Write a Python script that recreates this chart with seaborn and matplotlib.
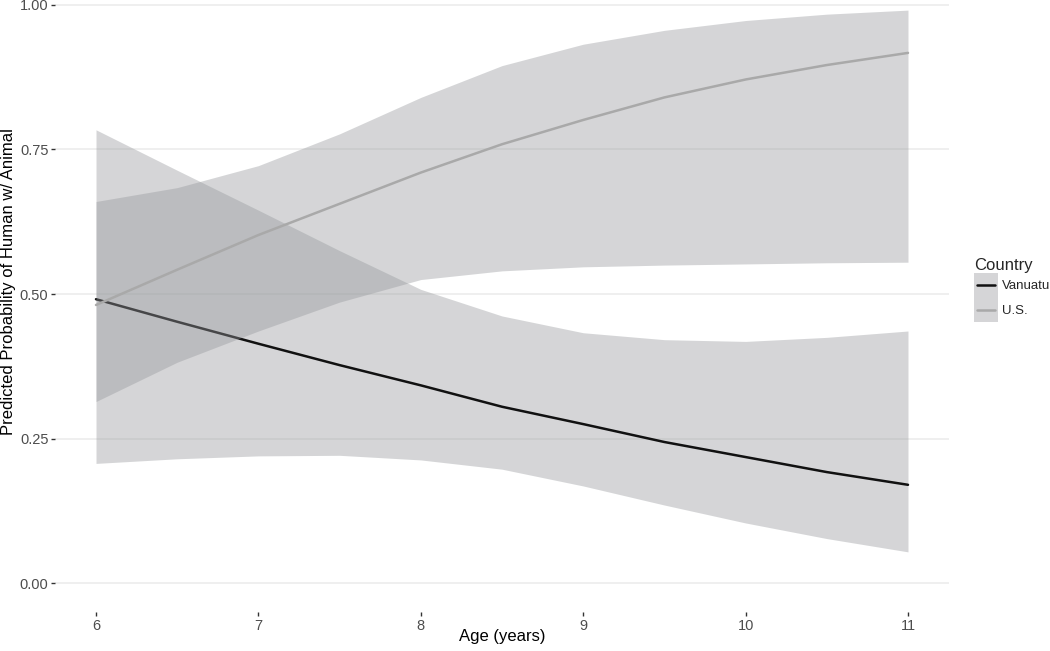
import matplotlib
matplotlib.use("Agg")
import matplotlib.pyplot as plt
import seaborn as sns
import pandas as pd
from matplotlib.patches import Rectangle
from matplotlib.lines import Line2D

# Predicted values (age in years)
age = [6, 6.5, 7, 7.5, 8, 8.5, 9, 9.5, 10, 10.5, 11]

vanuatu_fit = [0.491, 0.452, 0.414, 0.377, 0.342, 0.305, 0.275, 0.244, 0.218, 0.192, 0.170]
vanuatu_upper = [0.784, 0.714, 0.645, 0.575, 0.508, 0.462, 0.433, 0.421, 0.418, 0.425, 0.436]
vanuatu_lower = [0.207, 0.215, 0.220, 0.221, 0.213, 0.197, 0.168, 0.135, 0.104, 0.077, 0.054]

us_fit = [0.481, 0.542, 0.602, 0.656, 0.710, 0.759, 0.801, 0.840, 0.871, 0.896, 0.917]
us_upper = [0.660, 0.684, 0.722, 0.777, 0.840, 0.895, 0.932, 0.956, 0.973, 0.984, 0.991]
us_lower = [0.314, 0.382, 0.436, 0.486, 0.525, 0.540, 0.547, 0.550, 0.552, 0.554, 0.555]

countries = ["Vanuatu", "U.S."]
line_colors = {"Vanuatu": "#111111", "U.S.": "#a9a9a9"}
ribbon_color = "#96989c"

df = pd.concat([
    pd.DataFrame({"Age": age, "fit": vanuatu_fit, "lo": vanuatu_lower, "hi": vanuatu_upper, "Country": "Vanuatu"}),
    pd.DataFrame({"Age": age, "fit": us_fit, "lo": us_lower, "hi": us_upper, "Country": "U.S."}),
])


# legend key like ggplot's smooth key: grey box with the line through the middle
class SmoothKey:
    def legend_artist(self, legend, orig_handle, fontsize, handlebox):
        x0, y0 = -handlebox.xdescent, -handlebox.ydescent
        w, h = handlebox.width, handlebox.height
        rect = Rectangle((x0, y0), w, h, facecolor=ribbon_color, alpha=0.4,
                         edgecolor="none", transform=handlebox.get_transform())
        line = Line2D([x0 + 2, x0 + w - 2], [y0 + h / 2, y0 + h / 2],
                      color=orig_handle.get_color(), linewidth=1.8,
                      transform=handlebox.get_transform())
        handlebox.add_artist(rect)
        handlebox.add_artist(line)
        return rect


sns.set_theme(style="white")
plt.rcParams["font.family"] = ["Liberation Sans", "DejaVu Sans"]

fig = plt.figure(figsize=(10.5, 6.51), dpi=100)
# panel: x 55..949 px, y top runs a little past the figure edge (as in the source)
ax = fig.add_axes([55.4 / 1050, 39 / 651, (948.6 - 55.4) / 1050, (675 - 39) / 651])

# ribbon then line, per country (same order as geom_smooth)
z = 2
for c in countries:
    d = df[df["Country"] == c]
    ax.fill_between(d["Age"], d["lo"], d["hi"], color=ribbon_color, alpha=0.4,
                    linewidth=0, zorder=z)
    sns.lineplot(data=d, x="Age", y="fit", color=line_colors[c], linewidth=1.8,
                 ax=ax, zorder=z + 1)
    z += 2

ax.set_xlim(5.75, 11.25)
ax.set_ylim(-0.05, 1.05)
ax.set_xticks([6, 7, 8, 9, 10, 11])
ax.set_yticks([0, 0.25, 0.5, 0.75, 1.0])
ax.set_yticklabels(["0.00", "0.25", "0.50", "0.75", "1.00"])

ax.grid(axis="y", color="#ebebeb", linewidth=1.1, zorder=1)
ax.grid(axis="x", visible=False)
ax.set_axisbelow(True)
for s in ax.spines.values():
    s.set_visible(False)

ax.tick_params(axis="both", which="major", length=3, width=1.0, color="#333333",
               labelsize=10.5, labelcolor="#4d4d4d", pad=2, left=True, bottom=True)

ax.set_xlabel("Age (years)", fontsize=12, color="black", va="center")
ax.set_ylabel("Predicted Probability of Human w/ Animal", fontsize=12, color="black", va="center")
ax.xaxis.set_label_coords(0.5, -0.038)
ax.yaxis.set_label_coords(-0.053, 0.519)

handles = [Line2D([], [], color=line_colors[c]) for c in countries]
leg = fig.legend(handles, countries, loc="upper left",
                 bbox_to_anchor=(974 / 1050, 1 - 258 / 651), frameon=False,
                 title="Country", title_fontsize=12, fontsize=9.5,
                 handlelength=1.8, handleheight=2.5, labelspacing=0.0,
                 handletextpad=0.3, borderpad=0, borderaxespad=0,
                 alignment="left", handler_map={h: SmoothKey() for h in handles})

fig.savefig("out.png", dpi=100)
